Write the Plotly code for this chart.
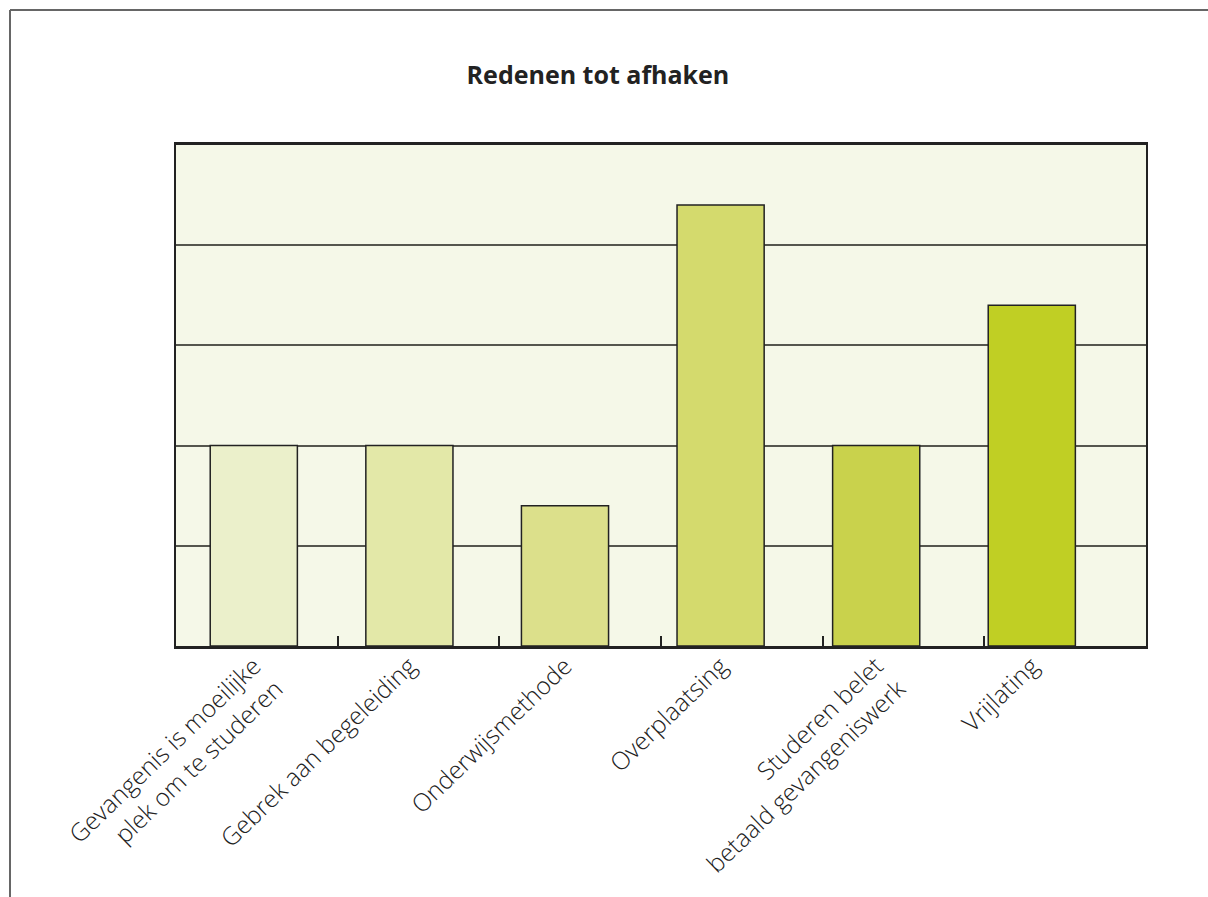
import plotly.graph_objects as go

categories = [
    "Gevangenis is moeilijke<br>plek om te studeren",
    "Gebrek aan begeleiding",
    "Onderwijsmethode",
    "Overplaatsing",
    "Studeren belet<br>betaald gevangeniswerk",
    "Vrijlating",
]
values = [10, 10, 7, 22, 10, 17]
bar_colors = ["#ebf0cb", "#e3e8a8", "#dce08b", "#d4da6d", "#c9d24c", "#c0cf24"]

positions = list(range(len(categories)))
x_range = [-0.5, 5.734]
n = len(categories)
boundary_step = (x_range[1] - x_range[0]) / n
boundaries = [x_range[0] + k * boundary_step for k in range(1, n)]

fig = go.Figure()
fig.add_trace(go.Bar(
    x=positions, y=values,
    marker=dict(color=bar_colors, line=dict(color="#222222", width=1.5)),
    width=0.56,
))
fig.add_trace(go.Scatter(x=[x_range[0]], y=[0], xaxis="x2", mode="markers",
                         marker=dict(opacity=0), hoverinfo="skip", showlegend=False))

W, H = 1208, 897
ml, mr, mt, mb = 176, 62, 145, 251
pw, ph = W - ml - mr, H - mt - mb

def px2paper_x(px):
    return (px - ml) / pw

def px2paper_y(py):
    return (H - mb - py) / ph

label_font = dict(family="Open Sans, Noto Sans, sans-serif", size=24.5, color="#222222", weight=300)

fig.update_layout(
    width=W, height=H,
    margin=dict(l=ml, r=mr, t=mt, b=mb, pad=0),
    paper_bgcolor="white",
    plot_bgcolor="#f5f8e8",
    font=dict(family="Open Sans, Noto Sans, sans-serif", color="#222222"),
    title=dict(text="<b>Redenen tot afhaken</b>", x=0.495, xanchor="center",
               y=1 - 75 / H, yanchor="middle", font=dict(size=25, color="#222222")),
    showlegend=False,
    shapes=[dict(type="line", xref="paper", yref="paper",
                 x0=px2paper_x(10), x1=px2paper_x(10), y0=px2paper_y(10), y1=px2paper_y(H + 20),
                 line=dict(color="#666666", width=2)),
            dict(type="line", xref="paper", yref="paper",
                 x0=px2paper_x(10), x1=px2paper_x(W + 20), y0=px2paper_y(10), y1=px2paper_y(10),
                 line=dict(color="#666666", width=2))],
    xaxis=dict(
        range=x_range, showline=True, linecolor="#222222", linewidth=2.5, mirror=True,
        tickmode="array", tickvals=boundaries, ticktext=[""] * len(boundaries),
        ticks="inside", ticklen=10, tickwidth=2, tickcolor="#222222",
        showgrid=False, zeroline=False,
    ),
    xaxis2=dict(
        range=x_range, overlaying="x", side="bottom", anchor="y",
        tickmode="array", tickvals=positions, ticktext=categories,
        ticks="", showline=False, showgrid=False, zeroline=False,
        tickangle=-44, tickfont=label_font,
    ),
    yaxis=dict(
        range=[0, 25], dtick=5, showticklabels=False,
        showline=True, linecolor="#222222", linewidth=2, mirror=True,
        showgrid=True, gridcolor="#55564e", gridwidth=2,
        zeroline=False, ticks="",
    ),
)

fig.write_html("out.html")
